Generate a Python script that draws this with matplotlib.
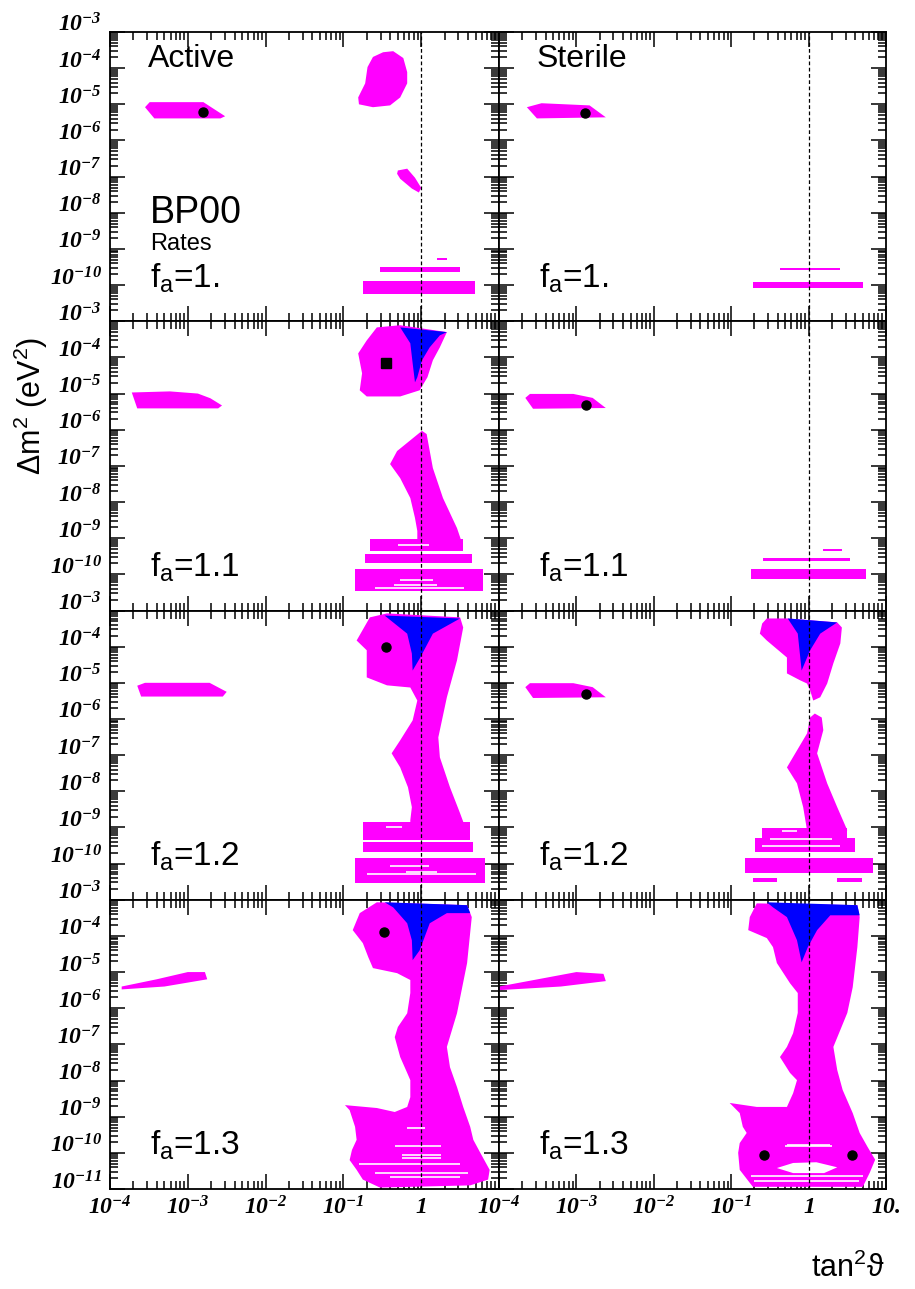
import numpy as np
import matplotlib
matplotlib.use("Agg")
import matplotlib.pyplot as plt
from matplotlib.ticker import FixedLocator, FixedFormatter, NullFormatter, LogLocator

plt.rcParams['mathtext.fontset'] = 'custom'
plt.rcParams['mathtext.rm'] = 'Liberation Sans'
plt.rcParams['mathtext.it'] = 'Liberation Sans:italic'
plt.rcParams['mathtext.bf'] = 'Liberation Serif:italic:bold'
plt.rcParams['font.family'] = ['Liberation Sans', 'DejaVu Sans']

MAG = '#ff00ff'
BLU = '#0000ff'

# ---------------- data (log10 tan^2 theta, log10 dm^2) ----------------
X_DECADES = [-4, -3, -2, -1, 0, 1]
X_LABELS_L = [r'$\mathbf{10^{-4}}$', r'$\mathbf{10^{-3}}$', r'$\mathbf{10^{-2}}$',
              r'$\mathbf{10^{-1}}$', r'$\mathbf{1}$', '']
X_LABELS_R = [r'$\mathbf{10^{-4}}$', r'$\mathbf{10^{-3}}$', r'$\mathbf{10^{-2}}$',
              r'$\mathbf{10^{-1}}$', r'$\mathbf{1}$', r'$\mathbf{10.}$']
Y_DECADES = [-3, -4, -5, -6, -7, -8, -9, -10, -11]
FA_LABELS = ['1.', '1.1', '1.2', '1.3']

# Row 1 : f_a = 1.
ACT10_LMA = [(-3.49, -4.94), (-2.80, -4.94), (-2.52, -5.33), (-2.58, -5.39), (-3.43, -5.39), (-3.55, -5.08)]
ACT10_LOW = [(-0.36, -3.53), (-0.23, -3.72), (-0.18, -4.11), (-0.18, -4.42), (-0.27, -4.81), (-0.40, -5.03),
             (-0.62, -5.08), (-0.80, -5.00), (-0.81, -4.81), (-0.72, -4.42), (-0.69, -3.97), (-0.62, -3.69),
             (-0.49, -3.56)]
ACT10_VAC = [(-0.30, -6.83), (-0.18, -6.78), (-0.08, -7.03), (0.00, -7.31), (-0.03, -7.44), (-0.12, -7.33),
             (-0.27, -7.06), (-0.31, -6.92)]
ACT10_STRIPS = [(-0.53, 0.50, -9.64, -9.50), (0.20, 0.33, -9.30, -9.25), (-0.75, 0.69, -10.25, -9.89)]
ACT10_BEST = [(-2.80, -5.22)]

STE10_LMA = [(-3.64, -5.08), (-3.45, -4.97), (-2.83, -5.03), (-2.62, -5.36), (-3.51, -5.39)]
STE10_STRIPS = [(-0.37, 0.41, -9.58, -9.52), (-0.72, 0.70, -10.08, -9.92)]
STE10_BEST = [(-2.89, -5.25)]

# Row 2 : f_a = 1.1
ACT11_LMA = [(-3.72, -4.97), (-3.23, -4.94), (-2.87, -5.00), (-2.71, -5.13), (-2.56, -5.33), (-2.61, -5.41),
             (-3.65, -5.41)]
ACT11_UP = [(-0.57, -3.17), (-0.27, -3.11), (0.33, -3.30), (0.24, -3.72), (0.15, -4.08), (0.08, -4.55),
            (-0.02, -4.91), (-0.27, -5.08), (-0.70, -5.08), (-0.79, -4.91), (-0.76, -4.44), (-0.81, -3.89),
            (-0.70, -3.53)]
ACT11_UP_BLUE = [(-0.27, -3.17), (-0.14, -3.61), (-0.11, -4.16), (-0.08, -4.69), (-0.05, -4.55), (0.01, -4.08),
                 (0.11, -3.72), (0.24, -3.39), (0.33, -3.30)]
ACT11_COL = [(0.01, -6.03), (0.07, -6.12), (0.15, -7.06), (0.28, -7.89), (0.46, -8.72), (0.52, -9.10),
             (-0.05, -9.10), (-0.05, -8.80), (-0.08, -8.44), (-0.14, -7.89), (-0.27, -7.34), (-0.40, -6.95),
             (-0.31, -6.59)]
ACT11_STRIPS = [(-0.66, 0.54, -9.36, -9.03), (-0.72, 0.65, -9.69, -9.45), (-0.85, 0.79, -10.47, -9.86)]
ACT11_GAPS = [(-0.30, 0.10, -9.20), (-0.45, 0.30, -9.40), (-0.27, 0.15, -10.15), (-0.35, 0.20, -10.30),
              (-0.60, 0.55, -10.38)]
ACT11_BEST = [(-0.45, -4.16)]

STE11_LMA = [(-3.66, -5.12), (-3.60, -5.01), (-3.04, -5.01), (-2.79, -5.12), (-2.62, -5.40), (-3.56, -5.42)]
STE11_STRIPS = [(0.19, 0.43, -9.36, -9.31), (-0.59, 0.53, -9.64, -9.55), (-0.74, 0.74, -10.14, -9.85)]
STE11_BEST = [(-2.88, -5.31)]

# Row 3 : f_a = 1.2
ACT12_LMA = [(-3.65, -5.08), (-3.55, -5.00), (-2.72, -5.00), (-2.50, -5.25), (-2.55, -5.38), (-3.60, -5.38)]
ACT12_MAIN = [(-0.66, -3.19), (-0.44, -3.08), (0.50, -3.19), (0.54, -3.47), (0.46, -4.38), (0.33, -5.40),
              (0.22, -6.51), (0.24, -7.06), (0.37, -7.89), (0.50, -8.61), (0.55, -8.90), (-0.14, -8.90),
              (-0.14, -8.80), (-0.12, -8.44), (-0.17, -7.89), (-0.27, -7.34), (-0.38, -6.95), (-0.27, -6.59),
              (-0.11, -6.04), (-0.05, -5.49), (-0.14, -5.13), (-0.44, -5.07), (-0.70, -4.85), (-0.70, -4.10),
              (-0.83, -3.83)]
ACT12_BLUE = [(-0.47, -3.14), (0.50, -3.22), (0.15, -3.64), (-0.02, -4.33), (-0.11, -4.66), (-0.12, -4.19),
              (-0.18, -3.64)]
ACT12_STRIPS = [(-0.75, 0.63, -9.35, -8.86), (-0.75, 0.67, -9.68, -9.41), (-0.85, 0.82, -10.54, -9.85)]
ACT12_GAPS = [(-0.45, -0.25, -9.0), (-0.30, 0.0, -9.38), (-0.40, 0.10, -10.08), (-0.70, 0.70, -10.30),
              (-0.20, 0.20, -10.22)]
ACT12_BEST = [(-0.45, -4.02)]

STE12_LMA = [(-3.66, -5.12), (-3.60, -5.01), (-3.04, -5.01), (-2.79, -5.12), (-2.62, -5.40), (-3.56, -5.42)]
STE12_UP = [(-0.54, -3.22), (-0.28, -3.22), (0.37, -3.33), (0.43, -3.47), (0.41, -3.91), (0.32, -4.46),
            (0.24, -5.02), (0.15, -5.40), (0.06, -5.49), (0.02, -5.21), (-0.02, -5.02), (-0.11, -4.93),
            (-0.28, -4.74), (-0.28, -4.30), (-0.54, -3.83), (-0.63, -3.64), (-0.60, -3.36)]
STE12_BLUE = [(-0.27, -3.22), (0.37, -3.33), (0.15, -3.64), (0.02, -4.10), (-0.09, -4.66), (-0.14, -3.64)]
STE12_COL = [(0.08, -5.85), (0.17, -5.96), (0.19, -6.31), (0.11, -6.95), (0.24, -7.78), (0.37, -8.44),
             (0.50, -9.08), (-0.02, -9.08), (-0.07, -8.44), (-0.15, -7.78), (-0.28, -7.34), (-0.15, -6.87),
             (-0.02, -6.40), (0.02, -5.96)]
STE12_STRIPS = [(-0.60, 0.50, -9.30, -9.02), (-0.69, 0.60, -9.68, -9.30), (-0.82, 0.83, -10.27, -9.85),
                (-0.72, -0.41, -10.50, -10.40), (0.37, 0.69, -10.50, -10.40)]
STE12_GAPS = [(-0.35, -0.15, -9.10), (-0.50, 0.30, -9.33), (-0.60, 0.40, -9.50)]
STE12_BEST = [(-2.88, -5.30)]

# Row 4 : f_a = 1.3
ACT13_LMA = [(-3.85, -5.40), (-3.40, -5.20), (-3.00, -5.00), (-2.78, -5.00), (-2.75, -5.20), (-3.30, -5.40),
             (-3.85, -5.48)]
ACT13_MAIN = [(-0.57, -3.07), (0.59, -3.15), (0.65, -3.48), (0.59, -4.75), (0.46, -6.14), (0.33, -7.07),
              (0.37, -7.63), (0.46, -8.18), (0.54, -8.73), (0.63, -9.28), (0.67, -9.64), (0.76, -10.00),
              (0.88, -10.47), (0.86, -10.74), (0.63, -10.90), (-0.53, -10.96), (-0.75, -10.74), (-0.83, -10.47),
              (-0.92, -10.20), (-0.89, -9.92), (-0.83, -9.64), (-0.85, -9.28), (-0.92, -8.82), (-0.98, -8.68),
              (-0.57, -8.76), (-0.34, -8.87), (-0.18, -8.73), (-0.14, -8.46), (-0.14, -7.99), (-0.18, -7.79),
              (-0.27, -7.35), (-0.34, -6.80), (-0.30, -6.52), (-0.18, -6.14), (-0.14, -5.58), (-0.14, -5.22),
              (-0.31, -5.03), (-0.62, -4.89), (-0.68, -4.59), (-0.75, -4.20), (-0.88, -3.84), (-0.79, -3.37)]
ACT13_BLUE = [(-0.47, -3.07), (0.59, -3.15), (0.63, -3.37), (0.33, -3.37), (0.11, -3.65), (-0.02, -4.40),
              (-0.11, -4.67), (-0.12, -4.12), (-0.18, -3.65), (-0.36, -3.21)]
ACT13_GAPS = [(-0.18, 0.05, -9.30), (-0.34, 0.25, -9.80), (-0.25, 0.25, -10.05), (-0.25, 0.25, -10.15),
              (-0.80, 0.50, -10.30), (-0.60, 0.60, -10.55), (-0.40, 0.50, -10.68)]
ACT13_BEST = [(-0.48, -3.90)]

STE13_LMA = [(-4.00, -5.40), (-3.50, -5.20), (-3.00, -5.00), (-2.65, -5.05), (-2.62, -5.25), (-3.20, -5.40),
             (-4.00, -5.50)]
STE13_MAIN = [(-0.67, -3.10), (0.63, -3.15), (0.66, -3.48), (0.63, -4.31), (0.57, -5.42), (0.50, -6.13),
              (0.32, -7.07), (0.37, -7.71), (0.44, -8.26), (0.57, -8.90), (0.66, -9.45), (0.76, -9.83),
              (0.86, -10.19), (0.79, -10.55), (0.70, -10.94), (-0.72, -10.94), (-0.89, -10.47), (-0.91, -10.00),
              (-0.89, -9.73), (-0.80, -9.45), (-0.85, -9.28), (-0.89, -8.90), (-1.02, -8.62), (-0.67, -8.73),
              (-0.28, -8.73), (-0.20, -8.35), (-0.15, -7.99), (-0.24, -7.79), (-0.37, -7.35), (-0.28, -7.07),
              (-0.20, -6.69), (-0.14, -6.13), (-0.14, -5.58), (-0.24, -5.31), (-0.41, -4.75), (-0.46, -4.31),
              (-0.54, -4.06), (-0.78, -3.84), (-0.76, -3.48)]
STE13_BLUE = [(-0.54, -3.07), (0.63, -3.15), (0.66, -3.43), (0.28, -3.43), (0.11, -3.84), (-0.01, -4.31),
              (-0.09, -4.73), (-0.15, -4.12), (-0.28, -3.48), (-0.46, -3.21)]
STE13_HOLE = [(-0.41, -10.42), (-0.20, -10.28), (0.10, -10.26), (0.37, -10.40), (0.20, -10.56), (-0.20, -10.56)]
STE13_GAPS = [(-0.28, 0.28, -9.78), (-0.30, 0.30, -9.82), (-0.75, 0.70, -10.65), (-0.70, 0.65, -10.78)]
STE13_BEST = [(-0.58, -10.06), (0.56, -10.06)]

PANELS = [
    # (row, col, magenta polygons, blue polygons, strips, gaps, holes, best points, marker)
    (0, 0, [ACT10_LMA, ACT10_LOW, ACT10_VAC], [], ACT10_STRIPS, [], [], ACT10_BEST, 'o'),
    (0, 1, [STE10_LMA], [], STE10_STRIPS, [], [], STE10_BEST, 'o'),
    (1, 0, [ACT11_LMA, ACT11_UP, ACT11_COL], [ACT11_UP_BLUE], ACT11_STRIPS, ACT11_GAPS, [], ACT11_BEST, 's'),
    (1, 1, [STE11_LMA], [], STE11_STRIPS, [], [], STE11_BEST, 'o'),
    (2, 0, [ACT12_LMA, ACT12_MAIN], [ACT12_BLUE], ACT12_STRIPS, ACT12_GAPS, [], ACT12_BEST, 'o'),
    (2, 1, [STE12_LMA, STE12_UP, STE12_COL], [STE12_BLUE], STE12_STRIPS, STE12_GAPS, [], STE12_BEST, 'o'),
    (3, 0, [ACT13_LMA, ACT13_MAIN], [ACT13_BLUE], [], ACT13_GAPS, [], ACT13_BEST, 'o'),
    (3, 1, [STE13_LMA, STE13_MAIN], [STE13_BLUE], [], STE13_GAPS, [STE13_HOLE], STE13_BEST, 'o'),
]

# ---------------- figure ----------------
W, H = 915, 1289
fig = plt.figure(figsize=(W / 100, H / 100), dpi=100)
col_x = [110, 499]
col_w = [389, 387]
row_top = 32
row_h = 289.25


def poly(ax, pts, color, z=2):
    p = np.array(pts)
    ax.fill(10 ** p[:, 0], 10 ** p[:, 1], color=color, lw=0, zorder=z)


axes = {}
for (r, c, mags, blues, strips, gaps, holes, best, mk) in PANELS:
    top = row_top + r * row_h
    ax = fig.add_axes([col_x[c] / W, 1 - (top + row_h) / H, col_w[c] / W, row_h / H])
    axes[(r, c)] = ax
    ax.set_xscale('log')
    ax.set_yscale('log')
    ax.set_xlim(1e-4, 10)
    ax.set_ylim(1e-11, 1e-3)
    for pts in mags:
        poly(ax, pts, MAG)
    for (x0, x1, y0, y1) in strips:
        poly(ax, [(x0, y0), (x1, y0), (x1, y1), (x0, y1)], MAG)
    for pts in blues:
        poly(ax, pts, BLU, 3)
    for pts in holes:
        poly(ax, pts, 'white', 3)
    for (x0, x1, y) in gaps:
        ax.hlines(10 ** y, 10 ** x0, 10 ** x1, color='white', lw=1.2, zorder=3)
    b = np.array(best)
    ax.plot(10 ** b[:, 0], 10 ** b[:, 1], mk, color='black', ms=6.5, zorder=5)
    ax.axvline(1.0, color='black', lw=0.9, ls=(0, (3, 2)), zorder=4)

    # ticks
    ax.xaxis.set_major_locator(FixedLocator([10.0 ** e for e in X_DECADES]))
    ax.xaxis.set_minor_locator(LogLocator(base=10, subs=np.arange(2, 10), numticks=20))
    ax.yaxis.set_major_locator(FixedLocator([10.0 ** e for e in Y_DECADES]))
    ax.yaxis.set_minor_locator(LogLocator(base=10, subs=np.arange(2, 10), numticks=20))
    ax.xaxis.set_minor_formatter(NullFormatter())
    ax.yaxis.set_minor_formatter(NullFormatter())
    ax.tick_params(which='both', direction='in', top=True, right=True, width=1.1, color='black')
    ax.tick_params(which='major', length=10.5)
    ax.tick_params(which='minor', length=5.5)
    for s in ax.spines.values():
        s.set_linewidth(1.3)

    if c == 0:
        labs = []
        for e in Y_DECADES:
            if e == -11 and r < 3:
                labs.append('')
            else:
                labs.append(r'$\mathbf{10^{%d}}$' % e)
        ax.yaxis.set_major_formatter(FixedFormatter(labs))
        ax.tick_params(axis='y', which='major', labelsize=17, pad=6)
        for t in ax.get_yticklabels():
            t.set_verticalalignment('baseline')
    else:
        ax.yaxis.set_major_formatter(NullFormatter())
    if r == 3:
        ax.xaxis.set_major_formatter(FixedFormatter(X_LABELS_L if c == 0 else X_LABELS_R))
        ax.tick_params(axis='x', which='major', labelsize=17, pad=5)
    else:
        ax.xaxis.set_major_formatter(NullFormatter())

    ax.text(0.103, 0.118, 'f$_{\\mathrm{a}}$=' + FA_LABELS[r], transform=ax.transAxes,
            fontsize=24, ha='left', va='baseline', zorder=6)

axes[(0, 0)].text(0.098, 0.879, 'Active', transform=axes[(0, 0)].transAxes, fontsize=23,
                  ha='left', va='baseline')
axes[(0, 1)].text(0.098, 0.879, 'Sterile', transform=axes[(0, 1)].transAxes, fontsize=23,
                  ha='left', va='baseline')
axes[(0, 0)].text(0.103, 0.34, 'BP00', transform=axes[(0, 0)].transAxes, fontsize=27,
                  ha='left', va='baseline')
axes[(0, 0)].text(0.103, 0.245, 'Rates', transform=axes[(0, 0)].transAxes, fontsize=17,
                  ha='left', va='baseline')

fig.text(31 / W, 1 - 406 / H, 'Δm$^{2}$ (eV$^{2}$)', rotation=90, ha='center', va='center',
         fontsize=22)
fig.text(885 / W, 1 - 1277 / H, 'tan$^{2}$ϑ', ha='right', va='baseline', fontsize=22,
         family=['Liberation Sans', 'DejaVu Sans'])

fig.savefig('out.png', dpi=100)
